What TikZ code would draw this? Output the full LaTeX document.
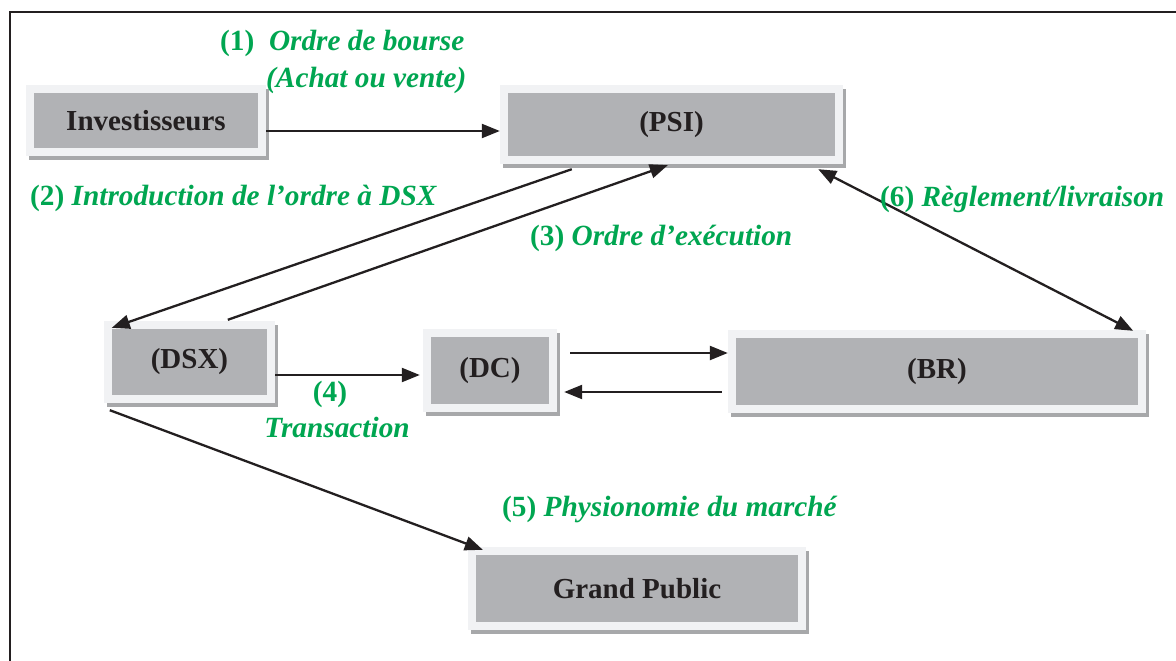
\documentclass[tikz,border=0pt]{standalone}
\usepackage{fontspec}
\setmainfont{Liberation Serif}
\usetikzlibrary{arrows.meta,shadows}
\definecolor{boxgray}{RGB}{177,178,181}
\definecolor{framecol}{RGB}{241,242,244}
\definecolor{shadowgray}{RGB}{167,168,170}
\definecolor{ink}{RGB}{35,31,32}
\definecolor{lblgreen}{RGB}{0,166,81}
\begin{document}
\begin{tikzpicture}[x=1pt,y=-1pt,
 box/.style={rectangle, inner sep=0pt, fill=framecol,
   drop shadow={shadow xshift=3pt, shadow yshift=-4pt, fill=shadowgray, opacity=1},
   path picture={\fill[boxgray] ([shift={(8pt,-8pt)}]path picture bounding box.north west) rectangle ([shift={(-8pt,8pt)}]path picture bounding box.south east);},
   font=\fontsize{29}{33}\selectfont\bfseries, text=ink},
 lbl/.style={text=lblgreen, font=\fontsize{29.3}{33}\selectfont\bfseries\itshape, inner sep=0pt},
 arr/.style={draw=ink, line width=2.3pt, -{Triangle[length=18pt,width=14pt]}},
 darr/.style={draw=ink, line width=2.3pt, {Triangle[length=18pt,width=14pt]}-{Triangle[length=18pt,width=14pt]}},
]
\useasboundingbox (0,0) rectangle (1176,661);
\fill[white] (0,0) rectangle (1176,661);
\draw[ink, line width=2.2pt] (10,661) -- (10,12) -- (1176,12);

\node[box, minimum width=240pt, minimum height=71pt] (inv) at (146,120.5) {Investisseurs};
\node[box, minimum width=343pt, minimum height=79pt] (psi) at (671.5,124.5) {(PSI)};
\node[box, minimum width=171pt, minimum height=82pt] (dsx) at (189.5,362) {(DSX)};
\node[box, minimum width=134pt, minimum height=83pt] (dc) at (490,370.5) {(DC)};
\node[box, minimum width=418pt, minimum height=83pt] (br) at (937,371.5) {(BR)};
\node[box, minimum width=338pt, minimum height=83pt] (gp) at (637,588.5) {Grand Public};

% connectors
\coordinate (a1) at ([yshift=-10.5pt]inv.east);
\draw[arr] (a1) -- (a1 -| psi.west);
\draw[arr] ([xshift=72pt,yshift=-5pt]psi.south west) -- ([xshift=8pt,yshift=-7pt]dsx.north west);
\draw[arr] ([xshift=124pt,yshift=1pt]dsx.north west) -- ([xshift=168pt,yshift=-1pt]psi.south west);
\draw[darr] ([xshift=-25pt,yshift=-5pt]psi.south east) -- ([xshift=-13pt,yshift=-1pt]br.north east);
\coordinate (a4) at ([yshift=-13pt]dsx.east);
\draw[arr] (a4) -- ([xshift=-3pt]a4 -| dc.west);
\coordinate (a5) at ([xshift=13pt,yshift=17.5pt]dc.east);
\draw[arr] (a5) -- (a5 -| br.west);
\coordinate (a6) at ([xshift=-6pt,yshift=-20.5pt]br.west);
\draw[arr] (a6) -- ([xshift=7pt]a6 -| dc.east);
\draw[arr] ([xshift=6pt,yshift=-7pt]dsx.south west) -- ([xshift=15pt,yshift=-3pt]gp.north west);

% labels
\node[lbl, anchor=base west] (l1a) at (220,51) {{\upshape(1)}\ \ Ordre de bourse};
\node[lbl, anchor=base west] (l1b) at (266,88) {(Achat ou vente)};
\node[lbl, anchor=base west] (l2) at (30,205) {{\upshape(2)} Introduction de l’ordre à DSX};
\node[lbl, anchor=base west] (l3) at (530,245) {{\upshape(3)} Ordre d’exécution};
\node[lbl, anchor=base west] (l6) at (880,206) {{\upshape(6)} Règlement/livraison};
\node[lbl, anchor=base] (l4a) at (330,401) {\upshape(4)};
\node[lbl, anchor=base] (l4b) at (337,437) {Transaction};
\node[lbl, anchor=base west] (l5) at (502,516) {{\upshape(5)} Physionomie du marché};
\end{tikzpicture}
\end{document}
